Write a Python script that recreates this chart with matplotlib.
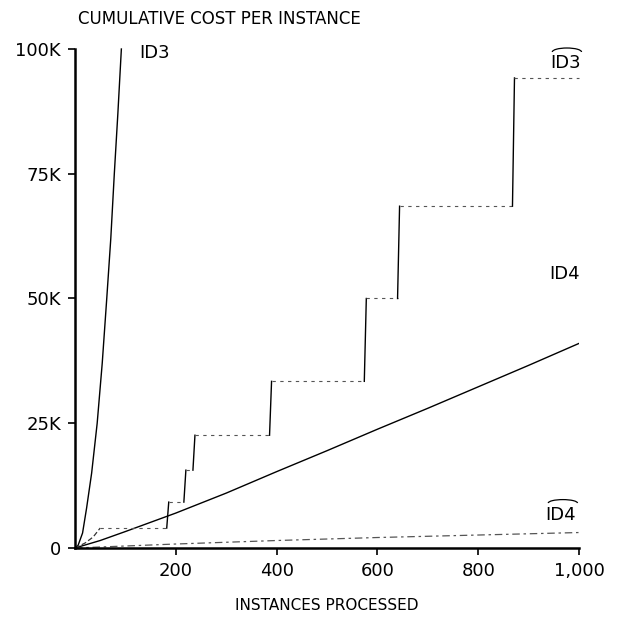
import matplotlib
matplotlib.use('Agg')
from matplotlib import pyplot as plt
from matplotlib.patches import Arc

# ID3: cumulative cost (thousands) vs instances processed
id3_x = [0, 6, 15, 23, 33, 44, 54, 63, 71, 78, 85, 92]
id3_y = [0, 0.5, 3, 8, 15, 25, 37, 50, 62, 75, 87, 100]

# ID3 hat: initial ramp then steps
id3h_ramp_x = [0, 20, 36, 50]
id3h_ramp_y = [0, 1.0, 2.2, 4.0]
id3h_jump_x = [182, 216, 234, 386, 574, 640, 868]
id3h_levels = [4.0, 9.2, 15.6, 22.6, 33.4, 50.0, 68.5, 94.2]
id3h_end_x = 1000

# ID4
id4_x = [0, 50, 100, 200, 300, 400, 500, 600, 700, 800, 900, 1000]
id4_y = [0, 1.5, 3.3, 7.0, 11.0, 15.3, 19.5, 23.8, 28.0, 32.3, 36.6, 41.0]

# ID4 hat
id4h_x = [0, 100, 200, 400, 600, 800, 1000]
id4h_y = [0, 0.4, 0.8, 1.5, 2.1, 2.6, 3.1]

x_ticks = [200, 400, 600, 800, 1000]
x_ticklabels = ['200', '400', '600', '800', '1,000']
y_ticks = [0, 25, 50, 75, 100]
y_ticklabels = ['0', '25K', '50K', '75K', '100K']

plt.rcParams['font.family'] = ['DejaVu Sans']

fig = plt.figure(figsize=(6.18, 6.17), dpi=100)
ax = fig.add_axes([75 / 618, 1 - 548 / 617, 504 / 618, 499 / 617])

ax.plot(id3_x, id3_y, color='black', lw=1.0, clip_on=False)
ax.plot(id4_x, id4_y, color='black', lw=1.0)
ax.plot(id4h_x, id4h_y, color='#555555', lw=0.9, linestyle=(0, (6, 3, 2, 3)))

# ID3 hat: solid risers, dotted treads
ax.plot(id3h_ramp_x, id3h_ramp_y, color='#333333', lw=0.9, linestyle=(0, (4, 2)))
start = id3h_ramp_x[-1]
slant = 4
for i, jx in enumerate(id3h_jump_x):
    ax.plot([start, jx], [id3h_levels[i], id3h_levels[i]], color='#555555',
            lw=0.8, linestyle=(0, (3, 4)))
    ax.plot([jx, jx + slant], [id3h_levels[i], id3h_levels[i + 1]], color='black', lw=1.0)
    start = jx + slant
ax.plot([start, id3h_end_x], [id3h_levels[-1], id3h_levels[-1]], color='#555555',
        lw=0.8, linestyle=(0, (3, 4)), clip_on=False)

ax.set_xlim(0, 1000)
ax.set_ylim(0, 100)
ax.spines['top'].set_visible(False)
ax.spines['right'].set_visible(False)
for s in ['left', 'bottom']:
    ax.spines[s].set_linewidth(1.8)
ax.set_xticks(x_ticks)
ax.set_xticklabels(x_ticklabels)
ax.set_yticks(y_ticks)
ax.set_yticklabels(y_ticklabels)
ax.tick_params(direction='out', length=5, width=1.2, labelsize=13, pad=5)

# curve labels; the hats are drawn as thin arcs over the text
ax.text(128, 98.2, 'ID3', fontsize=13, va='baseline')
ax.text(942, 96.2, 'ID3', fontsize=13, va='baseline')
ax.add_patch(Arc((976, 99.4), 58, 1.6, theta1=0, theta2=180, lw=0.9,
                 color='black', clip_on=False))
ax.text(940, 54.0, 'ID4', fontsize=13, va='baseline')
ax.text(934, 5.6, 'ID4', fontsize=13, va='baseline')
ax.add_patch(Arc((968, 9.0), 58, 1.4, theta1=0, theta2=180, lw=0.9,
                 color='black', clip_on=False))

fig.text(78 / 618, 1 - 19 / 617, 'CUMULATIVE COST PER INSTANCE', fontsize=12,
         ha='left', va='center')
ax.set_xlabel('INSTANCES PROCESSED', fontsize=11, labelpad=13)

fig.savefig('out.png', dpi=100)
